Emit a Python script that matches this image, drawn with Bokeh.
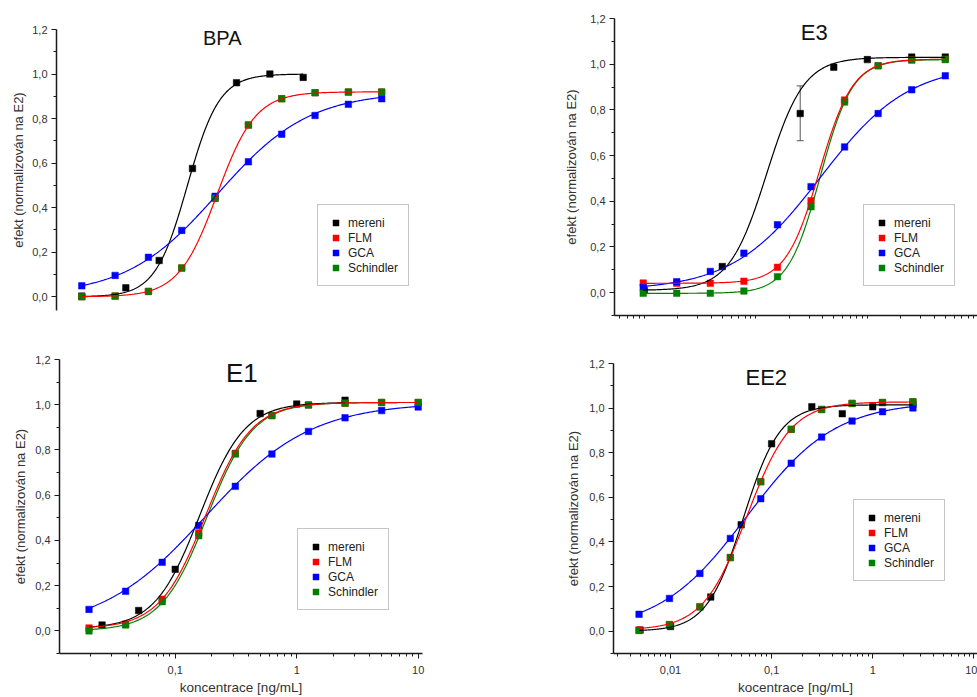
import numpy as np
from bokeh.plotting import figure
from bokeh.layouts import column, row
from bokeh.models import (ColumnDataSource, Legend, LegendItem, Label, FixedTicker,
                          Whisker, TeeHead)
from bokeh.embed import file_html
from bokeh.resources import INLINE

# ---------------- data ----------------
series_names = ["mereni", "FLM", "GCA", "Schindler"]
series_colors = ["#000000", "#ff0000", "#0000ff", "#008000"]

y_ticks = [0.0, 0.2, 0.4, 0.6, 0.8, 1.0, 1.2]
y_tick_labels = ["0,0", "0,2", "0,4", "0,6", "0,8", "1,0", "1,2"]
y_minor_ticks = [-0.1, 0.1, 0.3, 0.5, 0.7, 0.9, 1.1]
x_ticks = [0.001, 0.01, 0.1, 1, 10]
x_tick_labels = ["0,001", "0,01", "0,1", "1", "10"]

# BPA
bpa_x = [0.02, 0.04, 0.08, 0.16, 0.32, 0.64, 1.28, 2.56, 5.12, 10.24]
bpa_mereni_x = [0.02, 0.05, 0.1, 0.2, 0.5, 1, 2]
bpa_mereni_y = [0.003, 0.04, 0.163, 0.576, 0.961, 1.0, 0.985]
bpa_flm_y = [0.0, 0.003, 0.024, 0.129, 0.442, 0.771, 0.889, 0.916, 0.919, 0.919]
bpa_gca_y = [0.049, 0.096, 0.177, 0.298, 0.451, 0.606, 0.730, 0.814, 0.864, 0.889]
bpa_schindler_y = [0.0, 0.003, 0.024, 0.129, 0.442, 0.771, 0.889, 0.916, 0.919, 0.919]
# fitted curves: [bottom, top, EC50, Hill slope]
bpa_fit_mereni = [0.0, 1.0, 0.18, 3.0]
bpa_fit_flm = [0.0, 0.92, 0.334, 2.5]
bpa_fit_gca = [0.005, 0.92, 0.338, 1.05]

# E3
e3_x = [0.009766, 0.01953, 0.03906, 0.07813, 0.15625, 0.3125, 0.625, 1.25, 2.5, 5.0]
e3_mereni_x = [0.01, 0.05, 0.25, 0.5, 1, 2.5, 5]
e3_mereni_y = [0.009, 0.114, 0.784, 0.987, 1.02, 1.031, 1.031]
e3_mereni_err_x = [0.25]
e3_mereni_err_lo = [0.665]
e3_mereni_err_hi = [0.905]
e3_flm_y = [0.042, 0.041, 0.041, 0.05, 0.111, 0.402, 0.843, 0.993, 1.019, 1.022]
e3_gca_y = [0.023, 0.048, 0.093, 0.173, 0.297, 0.464, 0.638, 0.784, 0.888, 0.949]
e3_schindler_y = [-0.003, -0.003, -0.003, 0.007, 0.07, 0.376, 0.834, 0.993, 1.018, 1.02]
e3_fit_mereni = [0.01, 1.03, 0.125, 2.6]
e3_fit_flm = [0.041, 1.022, 0.372, 2.9]
e3_fit_gca = [0.01, 1.0, 0.38, 1.1]
e3_fit_schindler = [-0.003, 1.02, 0.378, 3.0]

# E1
e1_x = [0.01953, 0.03906, 0.07813, 0.15625, 0.3125, 0.625, 1.25, 2.5, 5.0, 10.0]
e1_mereni_x = [0.025, 0.05, 0.1, 0.5, 1, 2.5]
e1_mereni_y = [0.026, 0.09, 0.272, 0.961, 1.003, 1.02]
e1_flm_y = [0.013, 0.03, 0.14, 0.433, 0.785, 0.952, 0.999, 1.007, 1.01, 1.01]
e1_gca_y = [0.095, 0.175, 0.303, 0.466, 0.639, 0.782, 0.882, 0.942, 0.974, 0.99]
e1_schindler_y = [0.0, 0.026, 0.129, 0.421, 0.782, 0.952, 0.999, 1.007, 1.01, 1.01]
e1_fit_mereni = [0.01, 1.01, 0.159, 2.35]
e1_fit_flm = [0.01, 1.01, 0.178, 2.3]
e1_fit_gca = [0.0, 1.01, 0.177, 1.0]
e1_fit_schindler = [0.0, 1.01, 0.183, 2.3]

# EE2
ee2_x = [0.004883, 0.009766, 0.01953, 0.03906, 0.07813, 0.15625, 0.3125, 0.625, 1.25, 2.5]
ee2_mereni_x = [0.005, 0.01, 0.025, 0.05, 0.1, 0.25, 0.5, 1, 2.5]
ee2_mereni_y = [0.005, 0.021, 0.153, 0.477, 0.84, 1.006, 0.975, 1.006, 1.016]
ee2_flm_y = [0.005, 0.03, 0.11, 0.33, 0.67, 0.905, 0.994, 1.021, 1.025, 1.028]
ee2_gca_y = [0.0756, 0.147, 0.259, 0.416, 0.594, 0.753, 0.870, 0.942, 0.984, 1.001]
ee2_schindler_y = [0.003, 0.028, 0.108, 0.330, 0.670, 0.905, 0.994, 1.021, 1.025, 1.028]
ee2_fit_mereni = [0.0, 1.015, 0.0526, 2.4]
ee2_fit_flm = [0.005, 1.028, 0.0571, 2.0]
ee2_fit_gca = [0.0, 1.03, 0.057, 1.0]

FONT = "Liberation Sans"
Y_LABEL = "efekt (normalizován na E2)"


def hill(x, p):
    b, t, ec, n = p
    return b + (t - b) / (1.0 + (ec / x) ** n)


# layout of each panel in page pixels: figure box and plot-frame box
panels = [
    dict(name="BPA", fig=(0, 0, 488, 335), frame=(56, 29, 420, 310),
         xr=(0.01182, 22.95), yr=(-0.0616, 1.2), xaxis="none", xlabel=None,
         title_px=(221.7, 37.8), title_size="20px", legend_off=(261, 24),
         xs=bpa_x, mx=bpa_mereni_x, my=bpa_mereni_y,
         ys=[bpa_flm_y, bpa_gca_y, bpa_schindler_y],
         fits=[bpa_fit_mereni, bpa_fit_flm, bpa_fit_gca, None], ylab_standoff=3),
    dict(name="E3", fig=(488, 0, 489, 335), frame=(614, 18, 977, 315),
         xr=(0.0054, 9.725), yr=(-0.1, 1.2), xaxis="ticks", xlabel=None,
         title_px=(813.8, 31.7), title_size="22px", legend_off=(249, 29),
         xs=e3_x, mx=e3_mereni_x, my=e3_mereni_y,
         ys=[e3_flm_y, e3_gca_y, e3_schindler_y],
         fits=[e3_fit_mereni, e3_fit_flm, e3_fit_gca, e3_fit_schindler], ylab_standoff=8),
    dict(name="E1", fig=(0, 335, 488, 362), frame=(59, 359, 422, 655),
         xr=(0.01116, 10.85), yr=(-0.1, 1.2), xaxis="full", xlabel="koncentrace [ng/mL]",
         title_px=(241.3, 372.2), title_size="26px", legend_off=(238, 43),
         xs=e1_x, mx=e1_mereni_x, my=e1_mereni_y,
         ys=[e1_flm_y, e1_gca_y, e1_schindler_y],
         fits=[e1_fit_mereni, e1_fit_flm, e1_fit_gca, e1_fit_schindler], ylab_standoff=4),
    dict(name="EE2", fig=(488, 335, 489, 362), frame=(613, 363, 977, 656),
         xr=(0.002729, 10.88), yr=(-0.1, 1.2), xaxis="full", xlabel="kocentrace [ng/mL]",
         title_px=(765.8, 377.2), title_size="22px", legend_off=(240, 72),
         xs=ee2_x, mx=ee2_mereni_x, my=ee2_mereni_y,
         ys=[ee2_flm_y, ee2_gca_y, ee2_schindler_y],
         fits=[ee2_fit_mereni, ee2_fit_flm, ee2_fit_gca, None], ylab_standoff=5),
]

x_minor = [k * 10.0 ** d for d in range(-3, 2) for k in range(2, 10)]


def px_to_data(P, px, py):
    L, T, R, B = P["frame"]
    lx0, lx1 = np.log10(P["xr"][0]), np.log10(P["xr"][1])
    y0, y1 = P["yr"]
    x = 10 ** (lx0 + (px - L) / (R - L) * (lx1 - lx0))
    y = y0 + (B - py) / (B - T) * (y1 - y0)
    return x, y


def style_axis(ax, standoff):
    ax.axis_line_color = "#1a1a1a"
    ax.axis_line_width = 1.5
    ax.major_tick_line_color = "#1a1a1a"
    ax.minor_tick_line_color = "#1a1a1a"
    ax.major_tick_out = 5
    ax.major_tick_in = 0
    ax.minor_tick_out = 3
    ax.minor_tick_in = 0
    ax.major_label_text_font = FONT
    ax.major_label_text_font_size = "11px"
    ax.major_label_text_color = "#333333"
    ax.major_label_standoff = 4
    ax.axis_label_text_font = FONT
    ax.axis_label_text_font_style = "normal"
    ax.axis_label_text_color = "#333333"
    ax.axis_label_standoff = standoff


figs = []
for P in panels:
    fx, fy, fw, fh = P["fig"]
    L, T, R, B = P["frame"]
    kw = {}
    if P["xaxis"] == "none":
        kw["x_axis_location"] = None
    p = figure(width=fw, height=fh, x_axis_type="log", title=None,
               x_range=P["xr"], y_range=P["yr"],
               output_backend="svg", toolbar_location=None,
               min_border_left=L - fx, min_border_top=T - fy,
               min_border_right=fx + fw - R, min_border_bottom=fy + fh - B,
               background_fill_color="white", border_fill_color="white", **kw)
    p.outline_line_color = None
    p.xgrid.visible = False
    p.ygrid.visible = False

    # y axis
    ya = p.yaxis[0]
    ya.ticker = FixedTicker(ticks=y_ticks, minor_ticks=y_minor_ticks)
    ya.major_label_overrides = dict(zip(y_ticks, y_tick_labels))
    ya.axis_label = Y_LABEL
    style_axis(ya, P["ylab_standoff"])
    ya.axis_label_text_font_size = "13px"

    # x axis
    if P["xaxis"] != "none":
        xa = p.xaxis[0]
        style_axis(xa, 3)
        xa.major_label_standoff = 7
        xa.axis_label_text_font_size = "13.5px"
        if P["xaxis"] == "ticks":
            # labels of this axis are cut off in the original picture: ticks only
            xa.ticker = FixedTicker(ticks=[], minor_ticks=x_ticks + x_minor)
            xa.minor_tick_out = 3
        else:
            xa.ticker = FixedTicker(ticks=x_ticks, minor_ticks=x_minor)
            xa.major_label_overrides = dict(zip(x_ticks, x_tick_labels))
            xa.axis_label = P["xlabel"]

    # scatter points: mereni, FLM, GCA, Schindler
    point_sets = [(P["mx"], P["my"])] + [(P["xs"], ys) for ys in P["ys"]]
    rends = []
    for (xs, ys), c in zip(point_sets, series_colors):
        src = ColumnDataSource(dict(x=xs, y=ys))
        r = p.scatter("x", "y", source=src, marker="square", size=6.5,
                      fill_color=c, line_color=c, line_width=0.5)
        rends.append(r)

    if P["name"] == "E3":
        esrc = ColumnDataSource(dict(x=e3_mereni_err_x, lo=e3_mereni_err_lo, hi=e3_mereni_err_hi))
        w = Whisker(source=esrc, base="x", lower="lo", upper="hi", dimension="height",
                    line_color="#555555", line_width=1,
                    lower_head=TeeHead(size=7, line_color="#555555", line_width=1),
                    upper_head=TeeHead(size=7, line_color="#555555", line_width=1))
        p.add_layout(w)

    # fitted curves
    xmin_all = min(min(P["mx"]), min(P["xs"]))
    maxes = [max(P["mx"]), max(P["xs"]), max(P["xs"]), max(P["xs"])]
    order = [3, 0, 2, 1]  # draw green first, red last
    for i in order:
        fp = P["fits"][i]
        if fp is None:
            continue
        xx = np.geomspace(xmin_all, maxes[i], 300)
        yy = hill(xx, fp)
        p.line(xx, yy, line_color=series_colors[i], line_width=1.2)

    # legend
    items = [LegendItem(label=n, renderers=[r]) for n, r in zip(series_names, rends)]
    leg = Legend(items=items, location=P["legend_off"],
                 glyph_width=15, glyph_height=15, label_height=15, label_width=10,
                 spacing=0, padding=10, margin=0, label_standoff=5,
                 label_text_font=FONT, label_text_font_size="12px",
                 label_text_color="#222222",
                 border_line_color="#8c8c8c", border_line_width=1.2,
                 background_fill_color="white", background_fill_alpha=1.0)
    p.add_layout(leg)

    # panel title
    tx, ty = px_to_data(P, *P["title_px"])
    p.add_layout(Label(x=tx, y=ty, text=P["name"], text_font=FONT,
                       text_font_size=P["title_size"], text_color="#111111",
                       text_align="center", text_baseline="middle"))
    figs.append(p)

# each figure wrapped in its own column so that frames are not aligned across the row
layout = column(row(column(figs[0]), column(figs[1])),
                row(column(figs[2]), column(figs[3])))
open("out.html", "w").write(file_html(layout, INLINE))
